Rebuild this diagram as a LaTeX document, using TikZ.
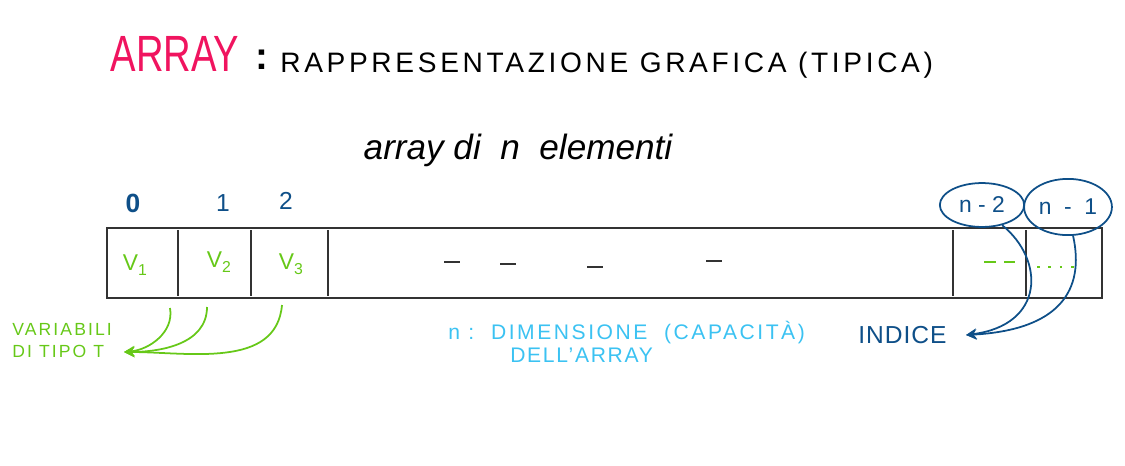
\documentclass[tikz,border=0pt]{standalone}
\usepackage{fontspec}
\setmainfont{Liberation Sans}
\usepackage{tikz}
\usetikzlibrary{arrows.meta}
\usetikzlibrary{shapes.geometric}

\definecolor{titlepink}{HTML}{F0145F}
\definecolor{idxblue}{HTML}{0E4F88}
\definecolor{valgreen}{HTML}{66C818}
\definecolor{dimcyan}{HTML}{3BC2F2}
\definecolor{boxgray}{HTML}{333333}

\newcommand{\valsub}[1]{V\raisebox{-3pt}{\fontsize{9}{9}\selectfont #1}}

\begin{document}
\begin{tikzpicture}
		[x=0.02cm, y=-0.02cm,
		index label/.style={text=idxblue, font=\fontsize{14}{14}\selectfont},
		cell value/.style={text=valgreen, font=\fontsize{13}{13}\selectfont},
		cell line/.style={boxgray, line width=1.2pt},
		ring/.style={draw=idxblue, text=idxblue, ellipse, line width=1pt, inner sep=1pt, font=\fontsize{13}{13}\selectfont},
		green arrow/.style={valgreen, line width=1pt, -{Stealth[length=6pt,width=6pt]}},
		blue arrow/.style={idxblue, line width=1pt, -{Stealth[length=6pt,width=6pt]}}]
		
		\useasboundingbox (0,0) rectangle (1125,466);
		
		% titolo
		\node[text=titlepink, font=\fontsize{29}{29}\selectfont] (title) at (175,54) {\scalebox{0.75}[1]{ARRAY}};
		\node[font=\fontsize{22}{22}\bfseries\selectfont] (colon) at (262,60) {:};
		\node[anchor=west, inner sep=0pt, font=\fontsize{16}{16}\selectfont\addfontfeatures{LetterSpace=13}] (subtitle) at (280,65) {RAPPRESENTAZIONE GRAFICA (TIPICA)};
		\node[font=\fontsize{20}{20}\itshape\selectfont] (caption) at (518,150) {array di \ n \ elementi};
		
		% l'array
		\draw[cell line] (107,228) rectangle (1102,298);
		\foreach \x in {178, 251, 328, 953, 1026}
			\draw[cell line] (\x,230) -- (\x,296);
		
		% indici
		\node[index label, font=\fontsize{15}{15}\bfseries\selectfont] (i0) at (133,203) {0};
		\node[index label] (i1) at (223,203) {1};
		\node[index label] (i2) at (286,201) {2};
		\node[ring, minimum width=48pt, minimum height=25pt] (in2) at (982,205) {n - 2};
		\node[ring, minimum width=50pt, minimum height=32pt] (in1) at (1068,207) {n \ - \ 1};
		
		% valori
		\node[cell value] (v1) at (135,265) {\valsub{1}};
		\node[cell value] (v2) at (219,262) {\valsub{2}};
		\node[cell value] (v3) at (291,264) {\valsub{3}};
		\foreach \x/\y in {452/262, 508/264, 595/267, 714/261}
			\draw[boxgray, line width=1pt] (\x-8,\y) -- (\x+8,\y);
		\draw[valgreen, line width=1.2pt] (984,262) -- (996,262) (1004,262) -- (1015,262);
		\draw[valgreen, line width=1.2pt, dash pattern=on 1.5pt off 5pt] (1037,267) -- (1080,267);
		
		% didascalie
		\node[anchor=west, text=valgreen, align=left, inner sep=0pt, font=\fontsize{10}{12.5}\selectfont\addfontfeatures{LetterSpace=12}] (tipo) at (12,341) {VARIABILI\\DI TIPO T};
		\node[anchor=west, text=dimcyan, inner sep=0pt, font=\fontsize{12}{12}\selectfont\addfontfeatures{LetterSpace=12}] (dim) at (448,333) {n :\ \ DIMENSIONE\ \ (CAPACITÀ)};
		\node[anchor=west, text=dimcyan, inner sep=0pt, font=\fontsize{12}{12}\selectfont\addfontfeatures{LetterSpace=8}] (dim2) at (510,355) {DELL'ARRAY};
		\node[anchor=west, text=idxblue, inner sep=0pt, font=\fontsize{14}{14}\selectfont\addfontfeatures{LetterSpace=4}] (indice) at (858,335) {INDICE};
		
		% frecce
		\coordinate (t1) at (170,308);
		\coordinate (t2) at (207,307);
		\coordinate (t3) at (282,305);
		\coordinate (tipo end) at (124,352);
		\draw[green arrow] (t1) to[out=-80, in=5] (tipo end);
		\draw[green arrow] (t2) to[out=-90, in=0] (tipo end);
		\draw[green arrow] (t3) to[out=-95, in=0] (tipo end);
		\coordinate (indice end) at (966,335);
		\draw[blue arrow] (in2.-45) .. controls (1045,260) and (1045,325) .. (indice end);
		\draw[blue arrow] (in1.-80) .. controls (1085,290) and (1060,330) .. (indice end);
		
	\end{tikzpicture}
\end{document}
